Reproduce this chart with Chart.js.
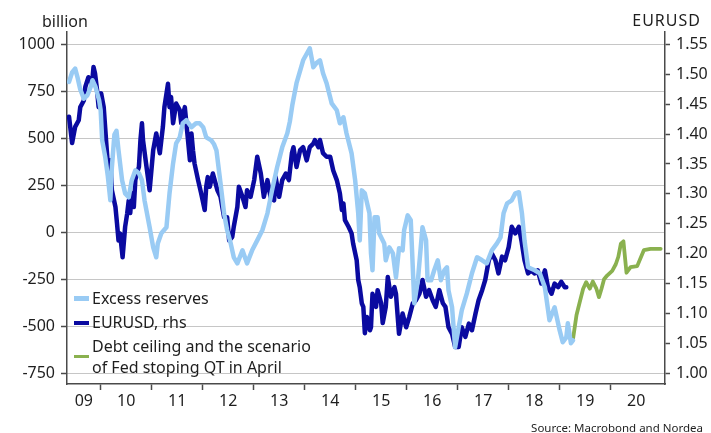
<!DOCTYPE html>
<html><head><meta charset="utf-8">
<script src="https://cdn.jsdelivr.net/npm/chart.js@4.4.0/dist/chart.umd.min.js"></script>
<style>
html,body{margin:0;padding:0;background:#fff;}
#wrap{position:relative;width:711px;height:433px;overflow:hidden;font-family:"Noto Sans",sans-serif;color:#1e1e1e;}
#c{position:absolute;left:0;top:0;}
.t{position:absolute;white-space:nowrap;line-height:1;}
.sw{position:absolute;}
</style></head><body>
<div id="wrap">
<canvas id="c" width="711" height="433"></canvas>
<div class="t" style="left:42px;top:12.5px;font-size:16px;">billion</div>
<div class="t" style="right:10px;top:11.8px;font-size:16px;letter-spacing:1px;">EURUSD</div>
<div class="t" style="right:8px;top:422.3px;font-size:11.5px;">Source: Macrobond and Nordea</div>
<div id="legend"></div>
</div>
<script>
// ---------- DATA ----------
const reservesDates = [2009.38,2009.44,2009.50,2009.55,2009.60,2009.67,2009.74,2009.80,2009.84,2009.90,2009.97,2010.00,2010.03,2010.09,2010.14,2010.19,2010.22,2010.27,2010.31,2010.35,2010.42,2010.48,2010.55,2010.61,2010.68,2010.75,2010.81,2010.86,2010.96,2011.03,2011.09,2011.12,2011.19,2011.29,2011.35,2011.42,2011.48,2011.55,2011.61,2011.68,2011.78,2011.87,2011.94,2012.01,2012.07,2012.17,2012.22,2012.27,2012.35,2012.42,2012.48,2012.55,2012.61,2012.68,2012.78,2012.87,2012.97,2013.07,2013.17,2013.27,2013.36,2013.46,2013.56,2013.66,2013.71,2013.76,2013.84,2013.97,2014.10,2014.17,2014.23,2014.30,2014.36,2014.43,2014.53,2014.63,2014.69,2014.76,2014.82,2014.92,2014.99,2015.05,2015.08,2015.12,2015.18,2015.27,2015.30,2015.33,2015.37,2015.43,2015.46,2015.56,2015.59,2015.66,2015.73,2015.79,2015.85,2015.92,2015.95,2016.02,2016.08,2016.15,2016.22,2016.31,2016.38,2016.41,2016.48,2016.54,2016.61,2016.67,2016.74,2016.79,2016.82,2016.89,2016.95,2017.02,2017.08,2017.18,2017.28,2017.38,2017.48,2017.57,2017.67,2017.77,2017.84,2017.90,2017.97,2018.06,2018.13,2018.20,2018.26,2018.31,2018.38,2018.51,2018.61,2018.71,2018.80,2018.90,2019.00,2019.06,2019.13,2019.16,2019.22,2019.26];
const reservesValues = [800,850,871,820,760,711,729,770,809,773,702,649,489,400,300,170,346,520,540,436,277,207,186,277,330,314,277,170,27,-80,-133,-59,-5,27,207,367,473,505,580,596,559,580,580,559,505,489,470,436,261,101,11,-59,-133,-165,-96,-165,-96,-43,11,101,223,346,452,527,590,680,793,915,979,878,900,915,846,793,686,649,580,612,527,420,277,101,-43,223,207,101,-112,-202,80,80,-5,-59,-149,-80,-112,-239,-85,-96,11,90,64,-378,-255,27,-43,-255,-255,-202,-149,-255,-202,-186,-309,-399,-612,-505,-415,-325,-218,-133,-149,-165,-96,-59,-27,101,154,170,207,213,101,-43,-186,-202,-218,-293,-468,-399,-522,-585,-559,-484,-590,-575];

const eurusdDates = [2009.38,2009.44,2009.50,2009.57,2009.60,2009.67,2009.70,2009.76,2009.83,2009.86,2009.89,2009.93,2009.96,2010.01,2010.06,2010.12,2010.16,2010.19,2010.22,2010.29,2010.32,2010.35,2010.38,2010.43,2010.48,2010.52,2010.55,2010.58,2010.61,2010.65,2010.68,2010.71,2010.75,2010.78,2010.81,2010.83,2010.89,2010.96,2011.03,2011.09,2011.16,2011.22,2011.25,2011.32,2011.35,2011.38,2011.42,2011.48,2011.55,2011.58,2011.65,2011.70,2011.75,2011.78,2011.81,2011.84,2011.91,2011.97,2012.04,2012.07,2012.10,2012.14,2012.20,2012.27,2012.29,2012.35,2012.42,2012.48,2012.52,2012.58,2012.61,2012.68,2012.71,2012.78,2012.84,2012.87,2012.94,2013.01,2013.07,2013.14,2013.20,2013.27,2013.33,2013.40,2013.43,2013.50,2013.56,2013.63,2013.69,2013.75,2013.78,2013.84,2013.91,2013.97,2014.04,2014.10,2014.17,2014.20,2014.27,2014.30,2014.36,2014.43,2014.50,2014.56,2014.63,2014.69,2014.73,2014.76,2014.79,2014.86,2014.92,2014.95,2015.02,2015.05,2015.08,2015.12,2015.15,2015.18,2015.22,2015.28,2015.30,2015.33,2015.40,2015.43,2015.50,2015.53,2015.59,2015.63,2015.69,2015.76,2015.79,2015.85,2015.92,2015.99,2016.05,2016.12,2016.18,2016.25,2016.31,2016.38,2016.44,2016.51,2016.57,2016.64,2016.71,2016.76,2016.82,2016.89,2016.95,2017.02,2017.08,2017.15,2017.22,2017.28,2017.35,2017.41,2017.48,2017.54,2017.61,2017.67,2017.74,2017.80,2017.87,2017.93,2018.00,2018.06,2018.13,2018.20,2018.25,2018.31,2018.38,2018.44,2018.51,2018.57,2018.64,2018.71,2018.77,2018.84,2018.90,2018.97,2019.03,2019.10,2019.13];
const eurusdValues = [1.429,1.385,1.412,1.423,1.445,1.456,1.479,1.495,1.484,1.512,1.501,1.473,1.445,1.468,1.445,1.373,1.328,1.356,1.306,1.278,1.251,1.222,1.234,1.194,1.245,1.267,1.289,1.268,1.301,1.278,1.323,1.334,1.345,1.390,1.418,1.390,1.351,1.306,1.373,1.401,1.368,1.412,1.445,1.484,1.445,1.462,1.418,1.451,1.440,1.418,1.445,1.401,1.356,1.401,1.373,1.351,1.323,1.301,1.273,1.312,1.328,1.312,1.334,1.312,1.306,1.295,1.261,1.261,1.222,1.228,1.245,1.278,1.312,1.295,1.278,1.306,1.295,1.323,1.362,1.334,1.295,1.323,1.295,1.289,1.328,1.295,1.323,1.334,1.323,1.368,1.378,1.345,1.373,1.378,1.356,1.378,1.384,1.390,1.378,1.390,1.368,1.362,1.362,1.339,1.323,1.301,1.273,1.284,1.256,1.245,1.234,1.217,1.189,1.156,1.144,1.117,1.111,1.067,1.094,1.072,1.077,1.133,1.111,1.139,1.117,1.084,1.111,1.161,1.128,1.144,1.133,1.066,1.100,1.077,1.094,1.117,1.122,1.133,1.156,1.128,1.139,1.122,1.111,1.139,1.117,1.111,1.077,1.066,1.044,1.044,1.077,1.061,1.083,1.072,1.100,1.122,1.139,1.156,1.189,1.200,1.189,1.167,1.195,1.189,1.211,1.245,1.234,1.245,1.222,1.189,1.167,1.172,1.167,1.172,1.150,1.172,1.144,1.133,1.150,1.144,1.153,1.144,1.144];

const scenarioDates = [2019.26,2019.33,2019.39,2019.46,2019.52,2019.59,2019.65,2019.72,2019.77,2019.82,2019.87,2019.93,2020.03,2020.10,2020.15,2020.20,2020.25,2020.31,2020.39,2020.52,2020.65,2020.78,2020.98];
const scenarioValues = [-570,-440,-375,-300,-265,-300,-262,-300,-345,-300,-250,-230,-205,-170,-130,-60,-48,-215,-185,-180,-95,-88,-88];

const seriesLabels = ['Excess reserves','EURUSD, rhs','Debt ceiling and the scenario\nof Fed stoping QT in April'];
const leftTicks = [-750,-500,-250,0,250,500,750,1000];
const rightTicks = [1.00,1.05,1.10,1.15,1.20,1.25,1.30,1.35,1.40,1.45,1.50,1.55];
const yearBoundaries = [2010,2011,2012,2013,2014,2015,2016,2017,2018,2019,2020];
const yearLabels = ['09','10','11','12','13','14','15','16','17','18','19','20'];

// ---------- CHART ----------
const X_MIN = 2009.34, X_MAX = 2021.065;
const COL = {res:'#99CBF4', eur:'#0A0AA0', scen:'#8AB14F', axis:'#4a4a4a', text:'#1e1e1e', grid:'#8c8c8c'};
const FONT = {family:'"Noto Sans", sans-serif', size:16};

const labelPositions = yearLabels.map((l, i) => i === 0 ? (X_MIN + yearBoundaries[0]) / 2 : yearBoundaries[i - 1] + 0.5);
const xTicks = [...yearBoundaries, ...labelPositions].sort((a, b) => a - b);
const isBoundary = v => yearBoundaries.some(b => Math.abs(b - v) < 1e-6);
const labelFor = v => { const i = labelPositions.findIndex(p => Math.abs(p - v) < 1e-6); return i >= 0 ? yearLabels[i] : ''; };
const pts = (xs, ys) => xs.map((x, i) => ({x, y: ys[i]}));

const colors = [COL.res, COL.eur, COL.scen];
const widths = [4.5, 4.5, 3.8];

const chart = new Chart(document.getElementById('c'), {
  type: 'line',
  data: {
    datasets: [
      {label: seriesLabels[0], data: pts(reservesDates, reservesValues), yAxisID: 'y'},
      {label: seriesLabels[1], data: pts(eurusdDates, eurusdValues), yAxisID: 'y1'},
      {label: seriesLabels[2], data: pts(scenarioDates, scenarioValues), yAxisID: 'y'}
    ].map((d, i) => Object.assign(d, {borderColor: colors[i], backgroundColor: colors[i], borderWidth: widths[i], pointRadius: 0, tension: 0, fill: false, borderJoinStyle: 'round', borderCapStyle: 'round'}))
  },
  options: {
    responsive: false, animation: false, devicePixelRatio: 1,
    layout: {padding: {top: 32, left: 0, right: 0, bottom: 0}},
    plugins: {legend: {display: false}, tooltip: {enabled: false}},
    scales: {
      x: {
        type: 'linear', position: 'bottom', min: X_MIN, max: X_MAX,
        afterBuildTicks: s => { s.ticks = xTicks.map(v => ({value: v})); },
        ticks: {autoSkip: false, maxRotation: 0, minRotation: 0, padding: 2, font: FONT, color: COL.text, callback: v => labelFor(v)},
        grid: {drawOnChartArea: false, tickLength: 6, tickWidth: 1.5,
               tickColor: c => (typeof c.index === 'number' && isBoundary(xTicks[c.index])) ? COL.axis : 'rgba(0,0,0,0)'},
        border: {color: COL.axis, width: 1.5},
        afterFit: s => { s.height = 49; }
      },
      y: {
        position: 'left', min: -806.9, max: 1065.4,
        afterBuildTicks: s => { s.ticks = leftTicks.map(v => ({value: v})); },
        ticks: {padding: 6, font: FONT, color: COL.text, callback: v => String(v)},
        grid: {color: COL.grid, lineWidth: 1, tickLength: 6, tickColor: COL.axis, tickWidth: 1.5, tickBorderDash: []},
        border: {color: COL.axis, width: 1.5, dash: [1, 1]},
        afterFit: s => { s.width = 67; }
      },
      y1: {
        position: 'right', min: 0.9821, max: 1.5706,
        afterBuildTicks: s => { s.ticks = rightTicks.map(v => ({value: v})); },
        ticks: {padding: 6, font: FONT, color: COL.text, callback: v => Number(v).toFixed(2)},
        grid: {drawOnChartArea: false, tickLength: 5, tickColor: COL.axis, tickWidth: 1.5},
        border: {color: COL.axis, width: 1.5},
        afterFit: s => { s.width = 46; }
      }
    }
  }
});

// ---------- LEGEND (HTML, built from datasets) ----------
const LEG = {sampleX: 74, sampleW: 15, textX: 92, baselines: [304, 328.3, 352.7], sampleY: [298.3, 323, 356.7], lineGap: 20.6, fs: 16};
const leg = document.getElementById('legend');
chart.data.datasets.forEach((ds, i) => {
  const sw = document.createElement('div');
  sw.className = 'sw';
  const h = i === 2 ? 3.5 : 4.5;
  sw.style.cssText = `left:${LEG.sampleX}px;top:${LEG.sampleY[i] - h / 2}px;width:${LEG.sampleW}px;height:${h}px;background:${ds.borderColor};`;
  leg.appendChild(sw);
  ds.label.split('\n').forEach((line, k) => {
    const t = document.createElement('div');
    t.className = 't';
    t.style.cssText = `left:${LEG.textX}px;top:${LEG.baselines[i] + k * LEG.lineGap - 0.888 * LEG.fs}px;font-size:${LEG.fs}px;`;
    t.textContent = line;
    leg.appendChild(t);
  });
});
</script>
</body></html>
